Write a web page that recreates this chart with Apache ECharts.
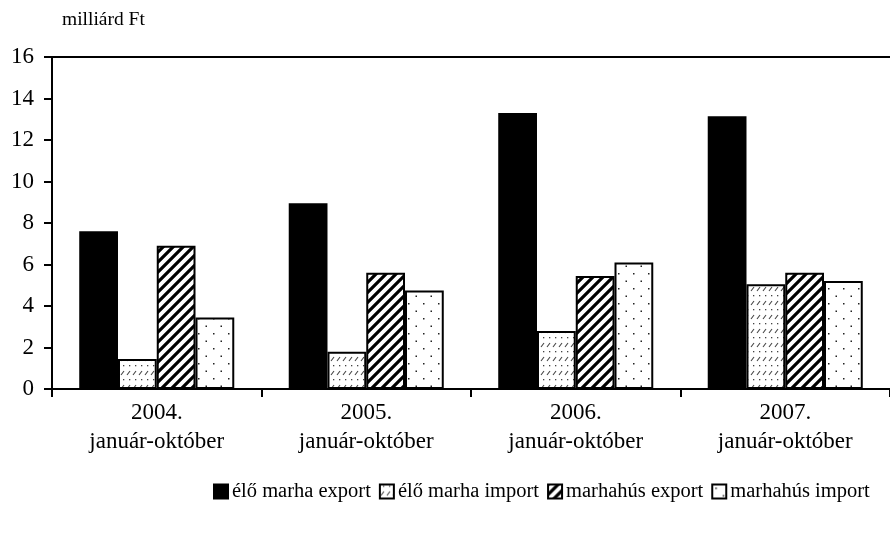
<!DOCTYPE html>
<html>
<head>
<meta charset="utf-8">
<script src="https://cdn.jsdelivr.net/npm/echarts@6/dist/echarts.min.js"></script>
<style>html,body{margin:0;padding:0;background:#fff;}#c{width:890px;height:535px;}</style>
</head>
<body>
<div id="c"></div>
<script>
const categories = ['2004.\njanuár-október', '2005.\njanuár-október', '2006.\njanuár-október', '2007.\njanuár-október'];
const eloMarhaExport = [7.6, 8.95, 13.3, 13.15];
const eloMarhaImport = [1.45, 1.8, 2.8, 5.05];
const marhahusExport = [6.9, 5.6, 5.45, 5.6];
const marhahusImport = [3.45, 4.75, 6.1, 5.2];
const seriesNames = ['élő marha export', 'élő marha import', 'marhahús export', 'marhahús import'];

function tile(w, h, draw) {
  const c = document.createElement('canvas');
  c.width = w; c.height = h;
  const g = c.getContext('2d');
  g.fillStyle = '#fff';
  g.fillRect(0, 0, w, h);
  draw(g);
  return c;
}
const stripes = tile(10, 10, g => {
  g.strokeStyle = '#000';
  g.lineWidth = 3.2;
  g.beginPath();
  g.moveTo(-2, 12); g.lineTo(12, -2);
  g.moveTo(-7, 7); g.lineTo(7, -7);
  g.moveTo(3, 17); g.lineTo(17, 3);
  g.stroke();
});
const dashes = tile(6, 14, g => {
  g.strokeStyle = '#444';
  g.lineWidth = 1.1;
  g.beginPath();
  g.moveTo(1, 11); g.lineTo(4, 7);
  g.stroke();
  g.fillStyle = '#444';
  g.fillRect(3, 1, 1.3, 1.3);
});
const dots = tile(15, 15, g => {
  g.fillStyle = '#222';
  g.fillRect(3, 3, 1.5, 1.5);
  g.fillRect(10.5, 10.5, 1.5, 1.5);
});

const font = 'Liberation Serif';
const chart = echarts.init(document.getElementById('c'), null, {renderer: 'canvas'});
const border = {borderColor: '#000', borderWidth: 2};
chart.setOption({
  animation: false,
  backgroundColor: '#fff',
  textStyle: {fontFamily: font, color: '#000'},
  grid: {left: 52, right: 0, top: 57, bottom: 146},
  title: {
    text: 'milliárd Ft', left: 57, top: 5,
    textStyle: {fontFamily: font, fontSize: 19.5, fontWeight: 'normal', color: '#000'}
  },
  legend: {
    left: 208, top: 476,
    icon: 'rect', itemWidth: 14, itemHeight: 14, itemGap: 8,
    textStyle: {fontFamily: font, fontSize: 20.5, color: '#000', padding: [0, 0, 0, -1]},
    data: seriesNames
  },
  xAxis: [{
    type: 'category',
    data: categories,
    axisLine: {lineStyle: {color: '#000', width: 2}},
    axisTick: {show: true, length: 8, lineStyle: {color: '#000', width: 2}},
    axisLabel: {fontFamily: font, fontSize: 23, color: '#000', lineHeight: 29, margin: 9}
  }, {
    type: 'category',
    position: 'top',
    data: categories,
    axisLine: {lineStyle: {color: '#000', width: 2}},
    axisTick: {show: false},
    axisLabel: {show: false}
  }],
  yAxis: {
    type: 'value', min: 0, max: 16, interval: 2,
    axisLine: {show: true, lineStyle: {color: '#000', width: 2}},
    axisTick: {show: true, length: 8, lineStyle: {color: '#000', width: 2}},
    splitLine: {show: false},
    axisLabel: {fontFamily: font, fontSize: 23, color: '#000', margin: 18}
  },
  series: [
    {name: seriesNames[0], type: 'bar', data: eloMarhaExport, barGap: '0%', barCategoryGap: '26%',
      itemStyle: Object.assign({color: '#000'}, border)},
    {name: seriesNames[1], type: 'bar', data: eloMarhaImport,
      itemStyle: Object.assign({color: {image: dashes, repeat: 'repeat'}}, border)},
    {name: seriesNames[2], type: 'bar', data: marhahusExport,
      itemStyle: Object.assign({color: {image: stripes, repeat: 'repeat'}}, border)},
    {name: seriesNames[3], type: 'bar', data: marhahusImport,
      itemStyle: Object.assign({color: {image: dots, repeat: 'repeat'}}, border)}
  ]
});
</script>
</body>
</html>
